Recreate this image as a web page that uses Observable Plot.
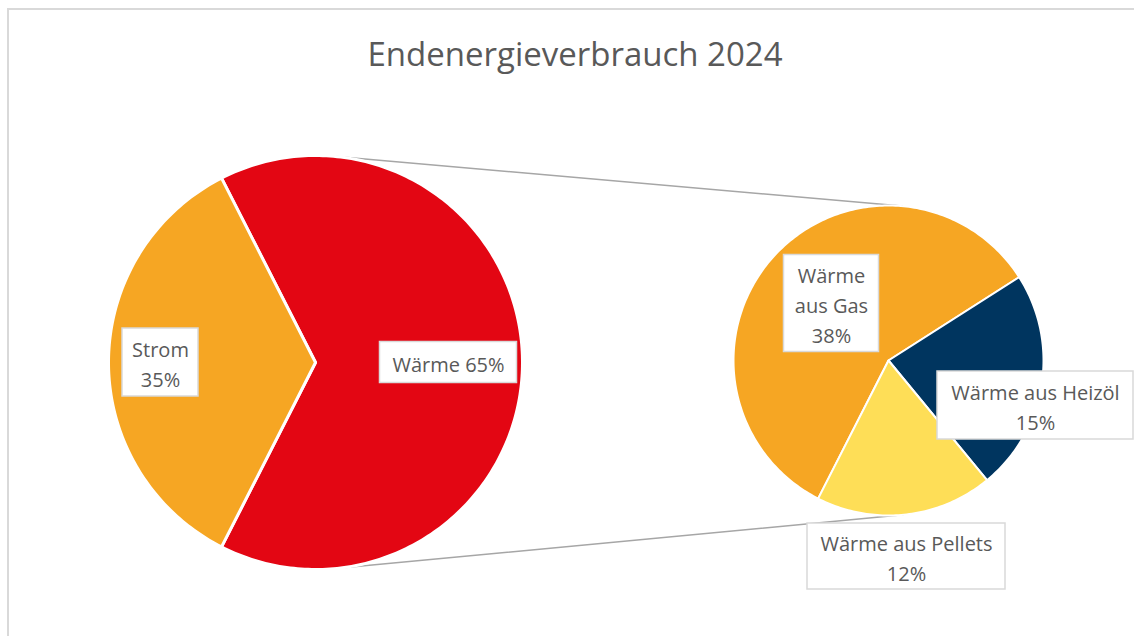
<!DOCTYPE html>
<html><head><meta charset="utf-8">
<script src="https://cdn.jsdelivr.net/npm/d3@7"></script>
<script src="https://cdn.jsdelivr.net/npm/@observablehq/plot@0.6"></script>
<style>
html,body{margin:0;padding:0;background:#fff;width:1134px;height:636px;overflow:hidden;}
#frame{position:absolute;left:7px;top:8px;width:1200px;height:700px;border-top:2px solid #d9d9d9;border-left:2px solid #d9d9d9;box-sizing:border-box;}
#title{position:absolute;left:0;top:37px;width:1150px;line-height:33px;text-align:center;font-family:"Open Sans",sans-serif;font-size:33px;color:#595959;white-space:nowrap;}
#chart{position:absolute;left:0;top:90px;}
</style></head>
<body>
<div id="frame"></div>
<div id="title"></div>
<div id="chart"></div>
<script>
// ---- data ----
const chartTitle = "Endenergieverbrauch 2024";
const mainCategories = ["Wärme", "Strom"];
const mainValues = [65, 35];
const mainColors = ["#E30613", "#F6A623"];
const subCategories = ["Wärme aus Gas", "Wärme aus Heizöl", "Wärme aus Pellets"];
const subValues = [38, 15, 12];
const subColors = ["#F6A623", "#00355F", "#FEDE57"];

// ---- layout (page pixels) ----
const W = 1134, H = 636, TOP = 90;
const mainPie = {cx: 315, cy: 362, r: 207};
const subPie = {cx: 888, cy: 360, r: 155, start: 207};
const labelLayout = {
  "Strom": {cx: 160, cy: 362, w: 76, h: 68, fmt: (c, v) => `${c}\n${v}%`},
  "Wärme": {cx: 448, cy: 362, w: 137, h: 41, fmt: (c, v) => `${c} ${v}%`},
  "Wärme aus Gas": {cx: 831, cy: 303, w: 95, h: 97, fmt: (c, v) => `${c.replace(" ", "\n")}\n${v}%`},
  "Wärme aus Heizöl": {cx: 1035, cy: 405, w: 196, h: 68, fmt: (c, v) => `${c}\n${v}%`},
  "Wärme aus Pellets": {cx: 906, cy: 556, w: 198, h: 66, fmt: (c, v) => `${c}\n${v}%`}
};

document.getElementById("title").textContent = chartTitle;

const rad = Math.PI / 180;
function slicePolys(cats, vals, cols, pie, startDeg) {
  const total = d3.sum(vals);
  const rows = [];
  let a = startDeg;
  cats.forEach((c, i) => {
    const span = vals[i] / total * 360;
    const a0 = a, a1 = a + span;
    rows.push({slice: c, x: pie.cx, y: pie.cy, color: cols[i]});
    const n = Math.max(2, Math.ceil(span));
    for (let k = 0; k <= n; k++) {
      const t = (a0 + (a1 - a0) * k / n) * rad;
      rows.push({slice: c, x: pie.cx + pie.r * Math.sin(t), y: pie.cy - pie.r * Math.cos(t), color: cols[i]});
    }
    a = a1;
  });
  return rows;
}
// main pie: the aggregated slice (Wärme) is centred on the right side
const mainStart = 90 - mainValues[0] / d3.sum(mainValues) * 180;
const mainRows = slicePolys(mainCategories, mainValues, mainColors, mainPie, mainStart);
const subRows = slicePolys(subCategories, subValues, subColors, subPie, subPie.start);

// external tangent connectors between the two pies
function tangents(p1, p2) {
  const dx = p2.cx - p1.cx, dy = p2.cy - p1.cy, D = Math.hypot(dx, dy);
  const ux = dx / D, uy = dy / D;
  const c = (p1.r - p2.r) / D, s = Math.sqrt(1 - c * c);
  const out = [];
  [1, -1].forEach((sg, j) => {
    const px = -uy * sg, py = ux * sg;
    const nx = ux * c + px * s, ny = uy * c + py * s;
    out.push({line: j, x: p1.cx + p1.r * nx, y: p1.cy + p1.r * ny});
    out.push({line: j, x: p2.cx + p2.r * nx, y: p2.cy + p2.r * ny});
  });
  return out;
}
const connectorRows = tangents(mainPie, subPie);

const labels = [];
mainCategories.forEach((c, i) => labels.push({key: c, text: labelLayout[c].fmt(c, mainValues[i]), ...labelLayout[c]}));
subCategories.forEach((c, i) => labels.push({key: c, text: labelLayout[c].fmt(c, subValues[i]), ...labelLayout[c]}));

const chart = Plot.plot({
  width: W, height: H - TOP,
  margin: 0,
  style: {background: "transparent", overflow: "visible"},
  x: {domain: [0, W], range: [0, W], axis: null},
  y: {domain: [TOP, H], range: [0, H - TOP], axis: null},
  color: {type: "identity"},
  marks: [
    Plot.line(connectorRows, {x: "x", y: "y", z: "line", stroke: "#a6a6a6", strokeWidth: 1.5}),
    Plot.line(mainRows, {x: "x", y: "y", z: "slice", fill: "color", stroke: "white", strokeWidth: 3, curve: "linear-closed", strokeLinejoin: "round"}),
    Plot.line(subRows, {x: "x", y: "y", z: "slice", fill: "color", stroke: "white", strokeWidth: 2, curve: "linear-closed", strokeLinejoin: "round"}),
    Plot.rect(labels, {x1: d => d.cx - d.w / 2, x2: d => d.cx + d.w / 2, y1: d => d.cy - d.h / 2, y2: d => d.cy + d.h / 2, fill: "white", stroke: "#d9d9d9", strokeWidth: 1.5}),
    Plot.text(labels, {x: "cx", y: "cy", text: "text", fill: "#595959", fontSize: 20, fontFamily: "'Open Sans', sans-serif", lineHeight: 1.5, lineAnchor: "middle", textAnchor: "middle"})
  ]
});
document.getElementById("chart").appendChild(chart);
</script>
</body></html>
